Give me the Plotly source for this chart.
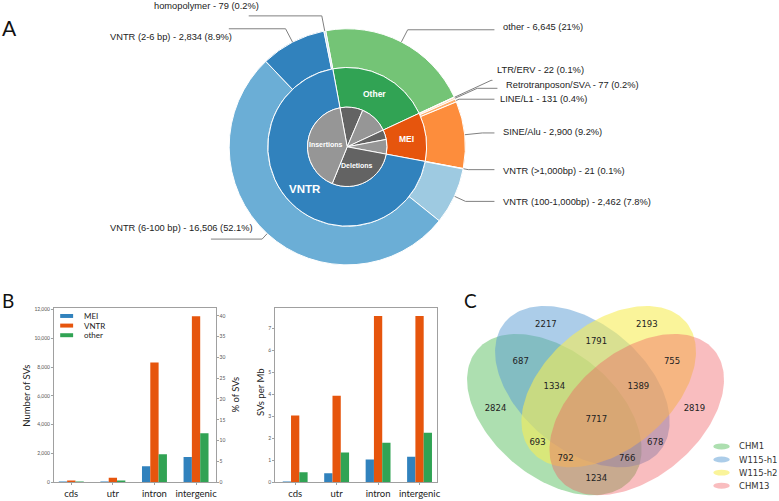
import numpy as np
import plotly.graph_objects as go

W, H = 779, 501

# ---------------- Panel A data ----------------
class_names = ["Other", "MEI", "VNTR"]
class_counts = [6645, 3130, 21902]

sub_names = ["other", "LTR/ERV", "Retrotranposon/SVA", "LINE/L1", "SINE/Alu",
             "VNTR (>1,000bp)", "VNTR (100-1,000bp)", "VNTR (6-100 bp)",
             "VNTR (2-6 bp)", "homopolymer"]
sub_counts = [6645, 22, 77, 131, 2900, 21, 2462, 16506, 2834, 79]
sub_pct = ["21%", "0.1%", "0.2%", "0.4%", "9.2%", "0.1%", "7.8%", "52.1%", "8.9%", "0.2%"]

type_names = ["Other deletions", "Other insertions", "MEI deletions", "MEI insertions",
              "Deletions", "Insertions"]
type_counts = [2950, 3695, 1250, 1880, 8940, 12962]
type_shown = ["", "", "", "", "Deletions", "Insertions"]

# ---------------- Panel B data ----------------
regions = ["cds", "utr", "intron", "intergenic"]
count_mei = [10, 30, 1100, 1750]
count_vntr = [90, 300, 8320, 11540]
count_other = [30, 90, 1930, 3400]
permb_mei = [0.01, 0.41, 1.03, 1.16]
permb_vntr = [3.04, 3.94, 7.57, 7.57]
permb_other = [0.45, 1.35, 1.79, 2.25]
count_ticks = [0, 2000, 4000, 6000, 8000, 10000, 12000]
pct_ticks = [0, 5, 10, 15, 20, 25, 30, 35, 40]
permb_ticks = [0, 1, 2, 3, 4, 5, 6, 7]
series_names = ["MEI", "VNTR", "other"]

# ---------------- Panel C data ----------------
venn_sets = ["CHM1", "W115-h1", "W115-h2", "CHM13"]
venn_keys = ["1000", "0100", "0010", "0001", "1100", "1010", "1001", "0110",
             "0101", "0011", "1110", "1101", "1011", "0111", "1111"]
venn_counts = [2824, 2217, 2193, 2819, 687, 693, 1234, 1791,
               678, 755, 1334, 766, 792, 1389, 7717]

# ---------------- styles / layout geometry ----------------
class_colors = ["#31a354", "#e6550d", "#3182bd"]
sub_colors = ["#74c476", "#fdd0a2", "#fdd0a2", "#fdae6b", "#fd8d3c",
              "#c6dbef", "#9ecae1", "#6baed6", "#3182bd", "#c6dbef"]
type_colors = ["#636363", "#969696"] * 3
bar_colors = ["#3182bd", "#e6550d", "#31a354"]
venn_fill = ["rgba(92,192,98,0.5)", "rgba(90,155,212,0.5)",
             "rgba(246,236,86,0.6)", "rgba(241,90,96,0.4)"]
# pyvenn 4-set ellipse layout (cx, cy, width, height, angle)
venn_ellipses = [(0.350, 0.400, 0.72, 0.45, 140.0), (0.450, 0.500, 0.72, 0.45, 140.0),
                 (0.544, 0.500, 0.72, 0.45, 40.0), (0.644, 0.400, 0.72, 0.45, 40.0)]
venn_text_pos = {"0001": (0.85, 0.42), "0010": (0.68, 0.72), "0011": (0.77, 0.59),
                 "0100": (0.32, 0.72), "0101": (0.71, 0.30), "0110": (0.50, 0.66),
                 "0111": (0.65, 0.50), "1000": (0.14, 0.42), "1001": (0.50, 0.17),
                 "1010": (0.29, 0.30), "1011": (0.39, 0.24), "1100": (0.23, 0.59),
                 "1101": (0.61, 0.24), "1110": (0.35, 0.50), "1111": (0.50, 0.38)}

LAB = "Liberation Sans, Arial, sans-serif"
SANS = "Lato, Open Sans, sans-serif"
DEJA = "DejaVu Sans, sans-serif"

CX, CY = 349.0, 147.0
R_OUT, R_MID, R_IN = 119.0, 80.0, 40.0
START = -10.5


def px(x):
    return x / W


def py(y):
    return 1 - y / H


def dom(r):
    return dict(x=[px(CX - r), px(CX + r)], y=[py(CY + r), py(CY - r)])


def mid_angles(counts):
    tot = float(sum(counts))
    c = np.cumsum([0] + list(counts))
    return [START + (c[i] + counts[i] / 2.0) / tot * 360.0 for i in range(len(counts))]


def polar(ang, r):
    a = np.deg2rad(ang)
    return CX + r * np.sin(a), CY - r * np.cos(a)


fig = go.Figure()

# ---- nested donut ----
fig.add_trace(go.Pie(values=sub_counts, labels=sub_names, sort=False, direction="clockwise",
                     rotation=START, hole=R_MID / R_OUT, domain=dom(R_OUT), textinfo="none",
                     marker=dict(colors=sub_colors, line=dict(color="white", width=1)),
                     showlegend=False))
fig.add_trace(go.Pie(values=class_counts, labels=class_names, sort=False, direction="clockwise",
                     rotation=START, hole=R_IN / R_MID, domain=dom(R_MID), textinfo="none",
                     marker=dict(colors=class_colors, line=dict(color="white", width=1)),
                     showlegend=False))
fig.add_trace(go.Pie(values=type_counts, labels=type_names, sort=False, direction="clockwise",
                     rotation=START, domain=dom(R_IN), textinfo="none",
                     marker=dict(colors=type_colors, line=dict(color="white", width=1)),
                     showlegend=False))

annotations = []
shapes = []

# ring labels
for name, ang in zip(class_names, mid_angles(class_counts)):
    x, y = polar(ang, (R_IN + R_MID) / 2)
    size = 11.5 if name == "VNTR" else 8.5
    annotations.append(dict(x=px(x), y=py(y), xref="paper", yref="paper", text="<b>%s</b>" % name,
                            xanchor="center", yanchor="middle",
                            showarrow=False, font=dict(family=LAB, size=size, color="white")))
for name, ang in zip(type_shown, mid_angles(type_counts)):
    if not name:
        continue
    x, y = polar(ang, 21)
    annotations.append(dict(x=px(x), y=py(y), xref="paper", yref="paper", text="<b>%s</b>" % name,
                            xanchor="center", yanchor="middle",
                            showarrow=False, font=dict(family=LAB, size=7, color="white")))

# outer labels with leader lines
label_text_xy = [(504, 26), (498, 70), (507, 85), (501, 99), (504, 132), (504, 171),
                 (504, 203), (109, 229), (109, 36), (153, 5)]
leader_end_xy = [(497, 29), (495, 80), (500, 88), (497, 99), (497, 133), (497, 170),
                 (497, 202), (212, 240), (230, 28), (250, 15)]
for i, ang in enumerate(mid_angles(sub_counts)):
    sx, sy = polar(ang, R_OUT)
    ex, ey = leader_end_xy[i]
    a = np.deg2rad(ang)
    dx, dy = np.sin(a), -np.cos(a)
    pts = [(sx, sy)]
    if abs(dy) > 1e-6:
        t = (ey - sy) / dy
        cx_ = sx + t * dx
        if t > 0 and min(sx, ex) <= cx_ <= max(sx, ex):
            pts.append((cx_, ey))
    pts.append((ex, ey))
    path = "M " + " L ".join("%.5f %.5f" % (px(x), py(y)) for x, y in pts)
    shapes.append(dict(type="path", path=path, xref="paper", yref="paper",
                       line=dict(color="#808080", width=1)))
    tx, ty = label_text_xy[i]
    annotations.append(dict(x=px(tx), y=py(ty), xref="paper", yref="paper", xanchor="left",
                            yanchor="middle", showarrow=False,
                            text="%s - %s (%s)" % (sub_names[i], format(sub_counts[i], ","), sub_pct[i]),
                            font=dict(family=LAB, size=9.3, color="#222")))

# ---- Panel B bars ----
for name, vals, col in zip(series_names, [count_mei, count_vntr, count_other], bar_colors):
    fig.add_trace(go.Bar(x=regions, y=vals, name=name, marker=dict(color=col, line=dict(width=0)),
                         xaxis="x", yaxis="y", showlegend=False))
fig.add_trace(go.Scatter(x=regions[:1], y=[0], xaxis="x", yaxis="y2", mode="markers",
                         marker=dict(opacity=0), hoverinfo="skip", showlegend=False))
for name, vals, col in zip(series_names, [permb_mei, permb_vntr, permb_other], bar_colors):
    fig.add_trace(go.Bar(x=regions, y=vals, name=name, marker=dict(color=col, line=dict(width=0)),
                         xaxis="x2", yaxis="y3", showlegend=False))

# ---- Panel C venn ----
t = np.linspace(0, 2 * np.pi, 200)
for (cx, cy, w, h, ang), col, name in zip(venn_ellipses, venn_fill, venn_sets):
    th = np.deg2rad(ang)
    ex = cx + (w / 2) * np.cos(t) * np.cos(th) - (h / 2) * np.sin(t) * np.sin(th)
    ey = cy + (w / 2) * np.cos(t) * np.sin(th) + (h / 2) * np.sin(t) * np.cos(th)
    fig.add_trace(go.Scatter(x=ex, y=ey, mode="lines", fill="toself", fillcolor=col,
                             line=dict(width=0), name=name, hoverinfo="skip",
                             xaxis="x3", yaxis="y4", showlegend=False))
fig.add_trace(go.Scatter(x=[venn_text_pos[k][0] for k in venn_keys],
                         y=[venn_text_pos[k][1] for k in venn_keys],
                         text=[str(v) for v in venn_counts], mode="text",
                         textfont=dict(family=DEJA, size=8.5, color="#222"),
                         xaxis="x3", yaxis="y4", showlegend=False, hoverinfo="skip"))

# ---- axes ----
axline = dict(showline=True, linecolor="#a0a0a0", linewidth=1, mirror=True, ticks="outside",
              ticklen=2, tickcolor="#a0a0a0", showgrid=False, zeroline=False)
ytickfont = dict(family=SANS, size=5, color="#555")
xtickfont = dict(family=SANS, size=9.5, color="#222")

B_TOP, B_BOT = 309.0, 485.0
L1, R1 = 54.3, 216.7
L2, R2 = 276.7, 439.0

# venn geometry: pixel position of unit square
VX0, VX1 = 458.6, 740.3
VY0 = 529.6          # pixel of y=0
VS = (VX1 - VX0)     # pixels per unit
vy_min = (VY0 - H) / VS

fig.update_layout(
    width=W, height=H, margin=dict(l=0, r=0, t=0, b=0), autosize=False,
    paper_bgcolor="white", plot_bgcolor="white",
    barmode="group", bargap=0.4, bargroupgap=0,
    xaxis=dict(domain=[px(L1), px(R1)], range=[-0.415, 3.47], tickfont=xtickfont, anchor="y", **axline),
    yaxis=dict(domain=[py(B_BOT), py(B_TOP)], range=[0, 12138], tickvals=count_ticks,
               tickformat=",", tickfont=ytickfont, anchor="x", **axline),
    yaxis2=dict(overlaying="y", side="right", anchor="x", range=[0, 42], tickvals=pct_ticks,
                tickfont=ytickfont, showline=True, linecolor="#a0a0a0", ticks="outside",
                ticklen=2, tickcolor="#a0a0a0", showgrid=False, zeroline=False),
    xaxis2=dict(domain=[px(L2), px(R2)], range=[-0.48, 3.415], tickfont=xtickfont, anchor="y3", **axline),
    yaxis3=dict(domain=[py(B_BOT), py(B_TOP)], range=[0, 7.96], tickvals=permb_ticks,
                tickfont=ytickfont, anchor="x2", **axline),
    xaxis3=dict(domain=[px(VX0), px(VX1)], range=[0, 1], visible=False, anchor="y4"),
    yaxis4=dict(domain=[0, py(VY0 - VS)], range=[vy_min, 1], visible=False, anchor="x3"),
)

# axis titles
for txt, x, y in [("Number of SVs", 27, 398), ("% of SVs", 237, 397), ("SVs per Mb", 262.5, 395)]:
    annotations.append(dict(x=px(x), y=py(y), xref="paper", yref="paper", text=txt, textangle=-90,
                            xanchor="center", yanchor="middle",
                            showarrow=False, font=dict(family=SANS, size=9.5, color="#222")))

# panel letters
for txt, x, y, s in [("A", 0, 27, 21), ("B", 0, 302, 19), ("C", 464, 302, 19)]:
    annotations.append(dict(x=px(x), y=py(y), xref="paper", yref="paper", text=txt,
                            xanchor="left", yanchor="middle",
                            showarrow=False, font=dict(family=SANS, size=s, color="#111")))

# legend for bars (manual)
for i, (name, col) in enumerate(zip(series_names, bar_colors)):
    yc = 317.5 + i * 9.7
    shapes.append(dict(type="rect", xref="paper", yref="paper", x0=px(60.5), x1=px(73.5),
                       y0=py(yc + 2), y1=py(yc - 2), fillcolor=col, line=dict(width=0)))
    annotations.append(dict(x=px(82), y=py(yc), xref="paper", yref="paper", xanchor="left",
                            yanchor="middle", text=name, showarrow=False,
                            font=dict(family=SANS, size=8, color="#222")))

# legend for venn (manual)
for i, (name, col) in enumerate(zip(venn_sets, venn_fill)):
    yc = 449 + i * 13.2
    shapes.append(dict(type="circle", xref="paper", yref="paper", x0=px(717), x1=px(733.5),
                       y0=py(yc + 3), y1=py(yc - 3), fillcolor=col, line=dict(width=0)))
    annotations.append(dict(x=px(741), y=py(yc), xref="paper", yref="paper", xanchor="left",
                            yanchor="middle", text=name, showarrow=False,
                            font=dict(family=DEJA, size=8.5, color="#333")))

fig.update_layout(annotations=annotations, shapes=shapes)
fig.write_html("out.html", config={"displayModeBar": False},
               post_script="document.body.style.margin='0';document.body.style.padding='0';")
